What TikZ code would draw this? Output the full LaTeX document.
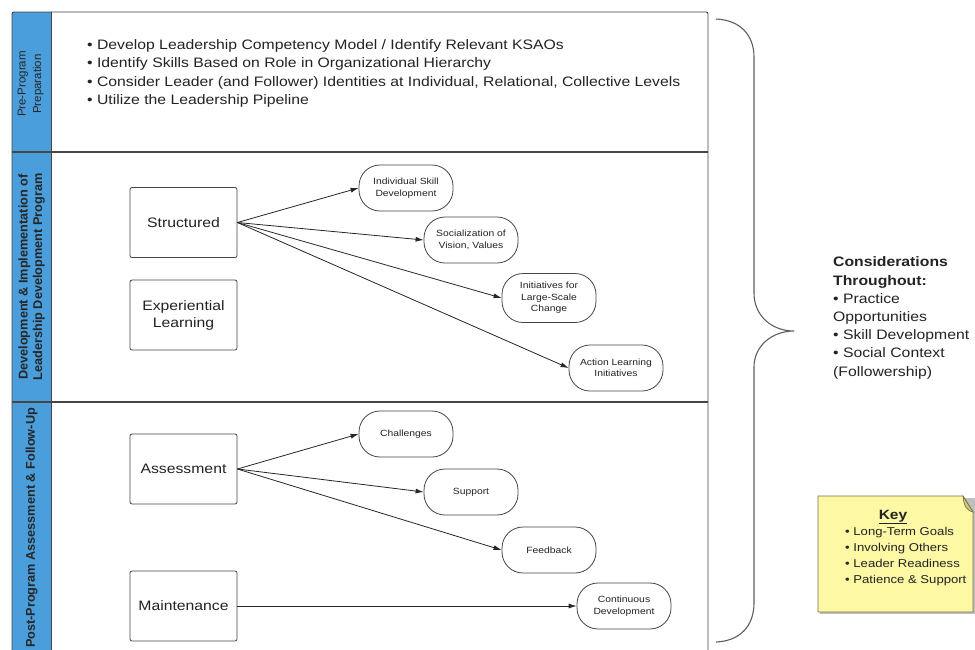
\documentclass[tikz,border=0pt]{standalone}
\usepackage{fontspec}
\setmainfont{Liberation Sans}[FakeStretch=1.15]
\newfontfamily\lanefont{Liberation Sans}
\usetikzlibrary{arrows.meta}
\definecolor{laneblue}{RGB}{74,158,219}
\definecolor{framegray}{RGB}{70,70,70}
\definecolor{bracegray}{RGB}{95,95,95}
\definecolor{keyfill}{RGB}{252,248,164}
\definecolor{flapfill}{RGB}{205,200,120}
\definecolor{keyborder}{RGB}{120,115,70}
\definecolor{textgray}{RGB}{35,35,35}
\begin{document}
\begin{tikzpicture}[x=1pt, y=-1pt,
  every node/.style={inner sep=0pt, text=textgray},
  box/.style={draw=framegray, line width=0.8pt, rounded corners=2pt,
    minimum width=107pt, minimum height=70pt, align=center,
    font=\fontsize{13.7}{17}\selectfont},
  pill/.style={draw=framegray, line width=0.8pt, rounded corners=21pt,
    minimum width=94pt, minimum height=46pt, align=center,
    font=\fontsize{9}{11.5}\selectfont},
  conn/.style={draw=black!85, line width=0.8pt, -{Latex[length=8pt,width=5pt]}},
  lanelabel/.style={rotate=90, align=center, text=black!85}
]
\useasboundingbox (0,0) rectangle (975,649);
\clip (0,0) rectangle (975,649);
\fill[white] (0,0) rectangle (975,649);

% pool frame
\fill[laneblue] (12,12) rectangle (51,665);
\draw[framegray, line width=0.9pt, rounded corners=2pt] (12,665) -- (12,12) -- (708,12) -- (708,665);
\draw[framegray, line width=0.9pt] (51,12) -- (51,665);
\draw[framegray, line width=1.1pt] (12,152) -- (708,152);
\draw[framegray, line width=1.1pt] (12,402) -- (708,402);

% lane labels
\node[lanelabel, font=\lanefont\fontsize{11.5}{15.5}\selectfont] (lane1) at (30.5,84) {Pre-Program\\Preparation};
\node[lanelabel, font=\lanefont\bfseries\fontsize{12.7}{14.5}\selectfont] (lane2) at (31.5,277) {Development \& Implementation of\\Leadership Development Program};
\node[lanelabel, font=\lanefont\bfseries\fontsize{12.7}{15}\selectfont] (lane3) at (31.5,528) {Post-Program Assessment \& Follow-Up};

% pre-program bullets
\node[anchor=west, align=left, font=\fontsize{13.7}{18.5}\selectfont] (pre) at (87,73.5)
 {• Develop Leadership Competency Model / Identify Relevant KSAOs\\
  • Identify Skills Based on Role in Organizational Hierarchy\\
  • Consider Leader (and Follower) Identities at Individual, Relational, Collective Levels\\
  • Utilize the Leadership Pipeline};

% development lane
\node[box] (struct) at (183.5,222.5) {Structured};
\node[box] (exper) at (183.5,315) {Experiential\\Learning};
\node[pill] (isd) at (406,188) {Individual Skill\\Development};
\node[pill] (soc) at (471,240) {Socialization of\\Vision, Values};
\node[pill, minimum height=49pt] (init) at (549,298) {Initiatives for\\Large-Scale\\Change};
\node[pill] (alt) at (616,368) {Action Learning\\Initiatives};
\draw[conn] (struct.east) -- (isd.west);
\draw[conn] (struct.east) -- (soc.west);
\draw[conn] (struct.east) -- (init.west);
\draw[conn] (struct.east) -- (alt.west);

% post-program lane
\node[box] (assess) at (183.5,469) {Assessment};
\node[box] (maint) at (183.5,606) {Maintenance};
\node[pill] (chal) at (406,434) {Challenges};
\node[pill] (supp) at (471,492) {Support};
\node[pill] (feed) at (549,550) {Feedback};
\node[pill] (cont) at (624,606) {Continuous\\Development};
\draw[conn] (assess.east) -- (chal.west);
\draw[conn] (assess.east) -- (supp.west);
\draw[conn] (assess.east) -- (feed.west);
\draw[conn] (maint.east) -- (cont.west);

% brace
\draw[bracegray, line width=1.1pt]
  (716,19) .. controls (740,20) and (754,35) .. (754,57)
  -- (754,293)
  .. controls (754,316) and (772,331) .. (794,331)
  .. controls (772,331) and (754,346) .. (754,367)
  -- (754,603)
  .. controls (754,626) and (740,641) .. (716,642);

% considerations
\node[anchor=west, align=left, font=\fontsize{13.7}{18.2}\selectfont] (cons) at (833,318)
 {\textbf{Considerations}\\\textbf{Throughout:}\\• Practice\\Opportunities\\• Skill Development\\• Social Context\\(Followership)};

% key note
\fill[black!25] (820,498) -- (975,498) -- (975,614) -- (820,614) -- cycle;
\draw[keyborder, fill=keyfill, line width=0.8pt] (818,496) -- (963,496) -- (973,512) -- (973,612) -- (818,612) -- cycle;
\draw[keyborder, fill=flapfill, line width=0.7pt] (963,496) .. controls (964,506) and (966,510) .. (973,512) -- cycle;
\node[font=\bfseries\fontsize{13.5}{15}\selectfont] (keyt) at (893,517) {\underline{Key}};
\node[anchor=west, align=left, font=\fontsize{11.4}{16}\selectfont] (keyl) at (845,557)
 {• Long-Term Goals\\• Involving Others\\• Leader Readiness\\• Patience \& Support};
\end{tikzpicture}
\end{document}
